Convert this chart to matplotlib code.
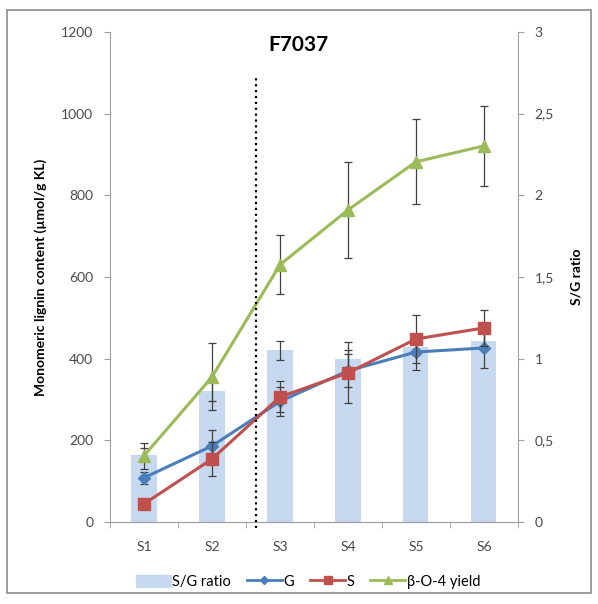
import matplotlib.pyplot as plt
from matplotlib.patches import Rectangle, Patch
from matplotlib.lines import Line2D

plt.rcParams['font.family'] = ['Lato', 'DejaVu Sans']

# Datos
muestras = ['S1', 'S2', 'S3', 'S4', 'S5', 'S6']
ratio_sg = [0.41, 0.80, 1.05, 1.00, 1.07, 1.11]
ratio_sg_err = [0.04, 0.06, 0.06, 0.05, 0.05, 0.05]
g = [108, 186, 295, 370, 416, 426]
g_err = [15, 38, 35, 40, 45, 50]
s = [44, 154, 306, 365, 448, 475]
s_err = [12, 42, 38, 75, 58, 45]
beta = [162, 355, 630, 764, 882, 921]
beta_err = [32, 82, 73, 117, 104, 98]
pos_linea = 1.65

c_bar = '#c6d9f1'
c_g = '#4a7ebb'
c_s = '#c0504d'
c_beta = '#9bbb59'

fig = plt.figure(figsize=(5.98, 6.04), dpi=100)
ax = fig.add_axes([0.184, 0.136, 0.682, 0.811])
ax2 = ax.twinx()
ax.set_zorder(2)
ax.patch.set_visible(False)

x = list(range(len(muestras)))
err_kw = dict(ecolor='#404040', elinewidth=0.9, capsize=3, capthick=0.9)

ax2.bar(x, ratio_sg, width=0.37, color=c_bar, zorder=1,
        yerr=ratio_sg_err, error_kw=err_kw)
ax2.set_ylim(0, 3)
ax2.set_yticks([0, 0.5, 1, 1.5, 2, 2.5, 3])
ax2.set_yticklabels(['0', '0,5', '1', '1,5', '2', '2,5', '3'])
ax2.set_ylabel('S/G ratio', fontsize=10, fontweight='bold', labelpad=12)

ax.errorbar(x, beta, yerr=beta_err, color=c_beta, marker='^', ms=8,
            lw=2.2, zorder=3, **err_kw)
ax.errorbar(x, g, yerr=g_err, color=c_g, marker='D', ms=6,
            lw=2.2, zorder=4, **err_kw)
ax.errorbar(x, s, yerr=s_err, color=c_s, marker='s', ms=8,
            lw=2.2, zorder=5, **err_kw)

ax.plot([pos_linea, pos_linea], [-15, 1090], color='black', ls=':', lw=1.6,
        clip_on=False, zorder=6)

ax.set_xlim(-0.5, 5.5)
ax.set_ylim(0, 1200)
ax.set_yticks(range(0, 1201, 200))
ax.set_xticks(x)
ax.set_xticklabels(muestras)
ax.set_xticks([i + 0.5 for i in range(-1, 6)], minor=True)
ax.tick_params(axis='x', which='major', length=0, pad=14)
ax.tick_params(axis='x', which='minor', length=4, color='#a0a0a0', direction='out')
ax.set_ylabel('Monomeric lignin content (µmol/g KL)', fontsize=10,
              fontweight='bold', labelpad=10)

for a in (ax, ax2):
    a.spines['top'].set_visible(False)
    for sp in ('left', 'right', 'bottom'):
        a.spines[sp].set_color('#a0a0a0')
    a.tick_params(axis='y', colors='#a0a0a0', labelcolor='#4a4a4a',
                  labelsize=10, length=4, pad=8)
ax.tick_params(axis='x', labelcolor='#4a4a4a', labelsize=10)
ax.spines['right'].set_visible(False)
ax2.spines['left'].set_visible(False)

fig.text(0.50, 0.925, 'F7037', fontsize=15, fontweight='bold', ha='center',
         va='center')

handles = [Patch(color=c_bar),
           Line2D([], [], color=c_g, marker='D', ms=4, lw=2),
           Line2D([], [], color=c_s, marker='s', ms=6, lw=2),
           Line2D([], [], color=c_beta, marker='^', ms=6, lw=2)]
fig.legend(handles, ['S/G ratio', 'G', 'S', 'β-O-4 yield'], loc='center',
           bbox_to_anchor=(0.515, 0.037), ncol=4, frameon=False, fontsize=10.5,
           handlelength=2.4, handleheight=0.9, columnspacing=1.1,
           handletextpad=0.1)

fig.patches.append(Rectangle((0.012, 0.018), 0.976, 0.965, transform=fig.transFigure,
                             fill=False, edgecolor='#8c8c8c', lw=1.2))

fig.savefig('out.png', dpi=100)
